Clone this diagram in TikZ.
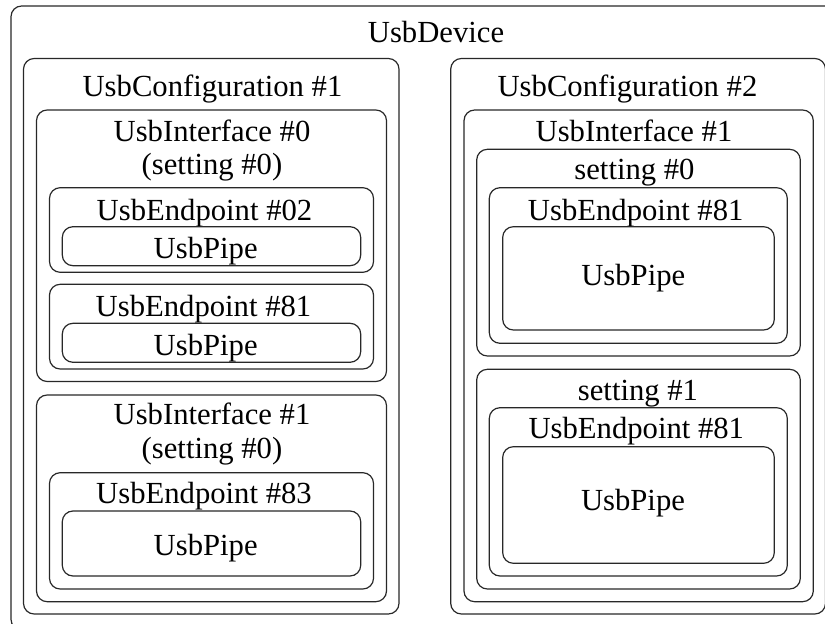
\documentclass[tikz,border=0pt]{standalone}
\usepackage{fontspec}
\setmainfont{Liberation Serif}

\tikzset{every picture/.style={line width=0.75pt}}
\tikzset{
  usbbox/.style={draw={rgb, 255:red, 40; green, 40; blue, 40}, line width=0.9pt, rounded corners=8},
  lbl/.style={anchor=base, inner sep=0pt, font=\fontsize{23}{25}\selectfont, align=center}
}

\begin{document}
\begin{tikzpicture}[x=0.75pt,y=0.75pt,yscale=-1,xscale=1]
        \useasboundingbox (0,0) rectangle (825,624);
        \clip (0,0) rectangle (825,624);

        % Device
        \draw [usbbox] (11,6) rectangle (861,630);
        \node (devlbl) [lbl] at (436,43) {UsbDevice};

        % Configuration #1
        \draw [usbbox] (23.5,58.5) rectangle (399,614);
        \node (cfgAlbl) [lbl] at (212.5,97) {UsbConfiguration \#1};

        \draw [usbbox] (36.5,110) rectangle (386.5,381.5);
        \node (ifAlbl) [lbl] at (212,175) {UsbInterface \#0\\(setting \#0)};
        \draw [usbbox] (49.5,187.7) rectangle (373.5,272.3);
        \node (epAlbl) [lbl] at (204.5,220) {UsbEndpoint \#02};
        \draw [usbbox] (62.3,226.7) rectangle (360.7,265.7);
        \node (pipeAlbl) [lbl] at (205.7,258.3) {UsbPipe};
        \draw [usbbox] (49.5,284.3) rectangle (373.5,369);
        \node (epBlbl) [lbl] at (203.5,316) {UsbEndpoint \#81};
        \draw [usbbox] (62.3,323.3) rectangle (360.7,362.3);
        \node (pipeBlbl) [lbl] at (205.7,355) {UsbPipe};

        \draw [usbbox] (36.5,395) rectangle (386.5,601.7);
        \node (ifBlbl) [lbl] at (212,458.3) {UsbInterface \#1\\(setting \#0)};
        \draw [usbbox] (49.5,472.7) rectangle (373.5,589);
        \node (epClbl) [lbl] at (204,503.3) {UsbEndpoint \#83};
        \draw [usbbox] (62.3,511) rectangle (360.7,576);
        \node (pipeClbl) [lbl] at (205.7,555) {UsbPipe};

        % Configuration #2
        \draw [usbbox] (450.7,58.5) rectangle (825.5,614);
        \node (cfgBlbl) [lbl] at (627.5,97) {UsbConfiguration \#2};

        \draw [usbbox] (464,110) rectangle (813.3,601.7);
        \node (ifClbl) [lbl] at (634,141.7) {UsbInterface \#1};

        \draw [usbbox] (476.7,149.3) rectangle (800.3,356);
        \node (setAlbl) [lbl] at (634.5,180) {setting \#0};
        \draw [usbbox] (489.3,187.7) rectangle (787.3,343.3);
        \node (epDlbl) [lbl] at (635.7,220) {UsbEndpoint \#81};
        \draw [usbbox] (502.7,226.7) rectangle (774.3,330);
        \node (pipeDlbl) [lbl] at (633.3,285) {UsbPipe};

        \draw [usbbox] (476.7,369.3) rectangle (800.3,589);
        \node (setBlbl) [lbl] at (638,400) {setting \#1};
        \draw [usbbox] (489.3,407.7) rectangle (787.3,576);
        \node (epElbl) [lbl] at (636.3,438.3) {UsbEndpoint \#81};
        \draw [usbbox] (502.7,446.7) rectangle (774.3,563.3);
        \node (pipeElbl) [lbl] at (633,510) {UsbPipe};

\end{tikzpicture}
\end{document}
